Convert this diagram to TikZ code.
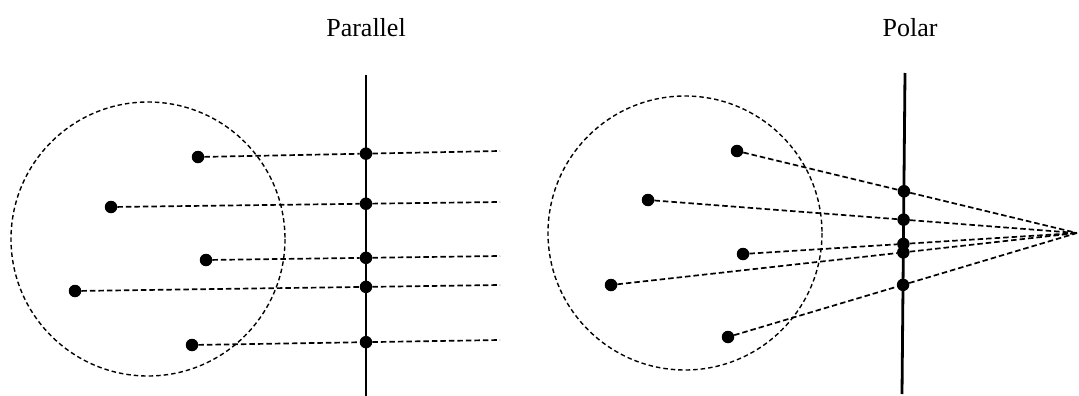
\documentclass[tikz,border=0pt]{standalone}
\usepackage{fontspec}
\setmainfont{Liberation Serif}
\begin{document}
\begin{tikzpicture}[x=1pt,y=-1pt,
  dotnode/.style={circle,fill=black,inner sep=0pt,minimum size=12.5pt},
  ray/.style={line width=1.7pt,dash pattern=on 5.5pt off 3pt},
  screen/.style={line width=2.8pt},
  bound/.style={line width=1.4pt,dash pattern=on 4.5pt off 3pt},
  title/.style={font=\fontsize{26}{30}\selectfont,anchor=base}]
\useasboundingbox (0,0) rectangle (1079,396);
% ---------- Parallel ----------
\node[title] (tp) at (366,37) {Parallel};
\draw[bound] (148,239) circle (137);
\coordinate (LT) at (366,75);
\coordinate (LB) at (366,396);
\draw[screen] (LT) -- (LB);
\coordinate (LE1) at (500,151);
\coordinate (LE2) at (500,202);
\coordinate (LE3) at (500,256);
\coordinate (LE4) at (500,285);
\coordinate (LE5) at (500,340);
\node[dotnode] (LA) at (198,157) {};
\node[dotnode] (LBp) at (111,207) {};
\node[dotnode] (LC) at (206,260) {};
\node[dotnode] (LD) at (75,291) {};
\node[dotnode] (LEp) at (192,345) {};
\node[dotnode] (L1) at (intersection of LA--LE1 and LT--LB) {};
\node[dotnode] (L2) at (intersection of LBp--LE2 and LT--LB) {};
\node[dotnode] (L3) at (intersection of LC--LE3 and LT--LB) {};
\node[dotnode] (L4) at (intersection of LD--LE4 and LT--LB) {};
\node[dotnode] (L5) at (intersection of LEp--LE5 and LT--LB) {};
\draw[ray] (LA) -- (L1) -- (LE1);
\draw[ray] (LBp) -- (L2) -- (LE2);
\draw[ray] (LC) -- (L3) -- (LE3);
\draw[ray] (LD) -- (L4) -- (LE4);
\draw[ray] (LEp) -- (L5) -- (LE5);
% ---------- Polar ----------
\node[title] (tq) at (910,37) {Polar};
\draw[bound] (685,233) circle (137);
\coordinate (RT) at (905,73);
\coordinate (RB) at (902,394);
\draw[screen] (RT) -- (RB);
\coordinate (apex) at (1077,233);
\node[dotnode] (RA) at (737,151) {};
\node[dotnode] (RBp) at (648,200) {};
\node[dotnode] (RC) at (743,254) {};
\node[dotnode] (RD) at (611,285) {};
\node[dotnode] (REp) at (728,337) {};
\node[dotnode] (R1) at (intersection of RA--apex and RT--RB) {};
\node[dotnode] (R2) at (intersection of RBp--apex and RT--RB) {};
\node[dotnode] (R3) at (intersection of RC--apex and RT--RB) {};
\node[dotnode] (R4) at (intersection of RD--apex and RT--RB) {};
\node[dotnode] (R5) at (intersection of REp--apex and RT--RB) {};
\draw[ray] (RA) -- (R1) -- (apex);
\draw[ray] (RBp) -- (R2) -- (apex);
\draw[ray] (RC) -- (R3) -- (apex);
\draw[ray] (RD) -- (R4) -- (apex);
\draw[ray] (REp) -- (R5) -- (apex);
\end{tikzpicture}
\end{document}
